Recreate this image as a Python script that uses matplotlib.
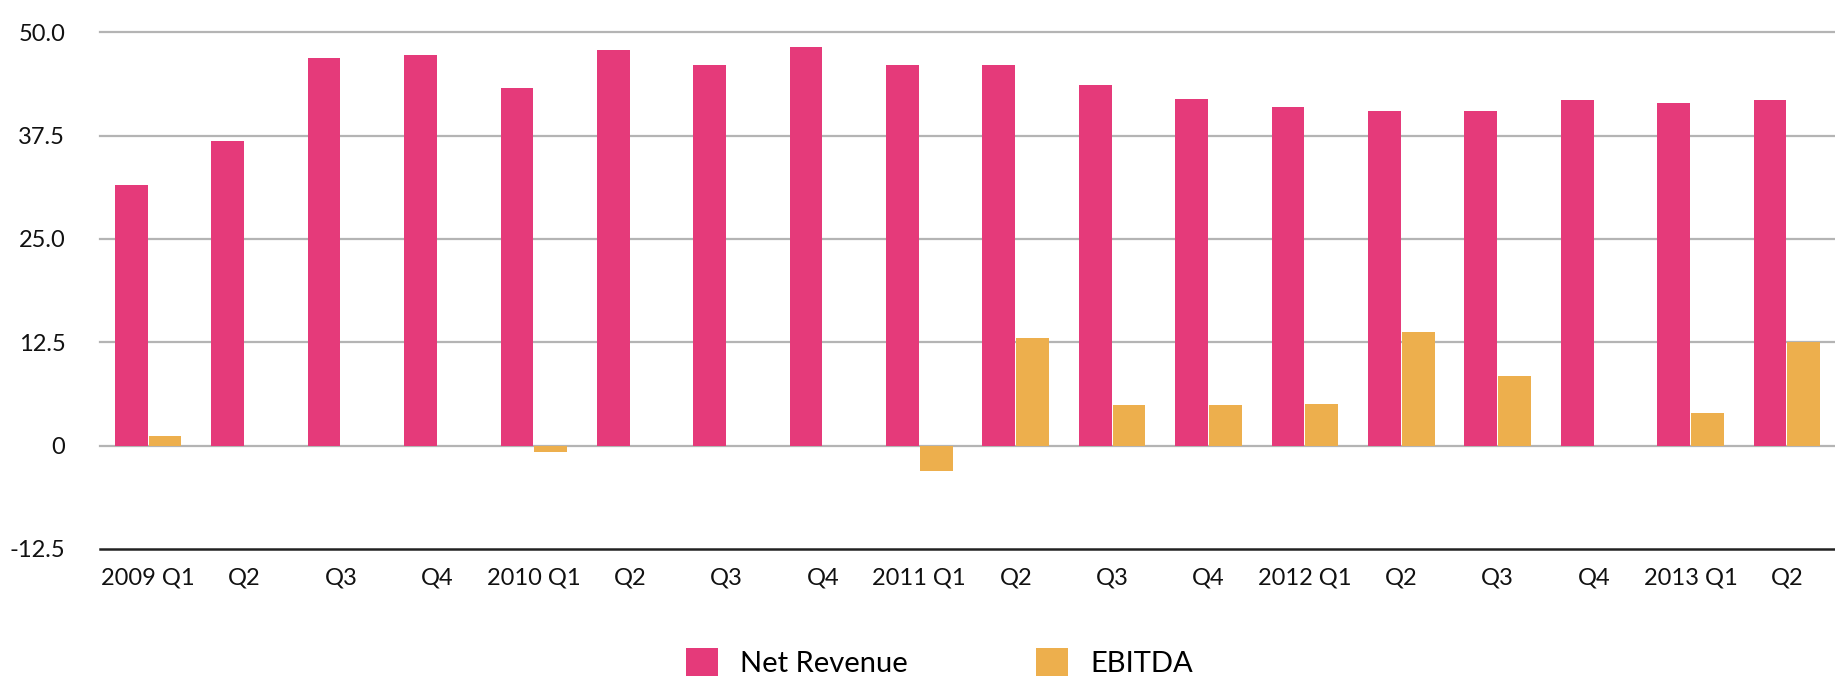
import numpy as np
import matplotlib
matplotlib.use("Agg")
import matplotlib.pyplot as plt

plt.rcParams['font.family'] = ['Lato', 'DejaVu Sans']

quarters = ["2009 Q1", "Q2", "Q3", "Q4", "2010 Q1", "Q2", "Q3", "Q4",
            "2011 Q1", "Q2", "Q3", "Q4", "2012 Q1", "Q2", "Q3", "Q4",
            "2013 Q1", "Q2"]
net_revenue = [31.5, 36.9, 46.9, 47.2, 43.2, 47.9, 46.0, 48.2,
               46.0, 46.0, 43.6, 41.9, 41.0, 40.5, 40.5, 41.8,
               41.4, 41.8]
ebitda = [1.2, np.nan, np.nan, np.nan, -0.8, np.nan, np.nan, np.nan,
          -3.1, 13.0, 4.9, 4.9, 5.0, 13.8, 8.4, np.nan,
          4.0, 12.5]
yticks = [-12.5, 0, 12.5, 25.0, 37.5, 50.0]
ytick_labels = ["-12.5", "0", "12.5", "25.0", "37.5", "50.0"]

pink = "#E53A7A"
orange = "#EDAF4D"

fig = plt.figure(figsize=(18.35, 6.79), dpi=100)
ax = fig.add_axes([0.0545, 0.1915, 0.9455, 0.761])

x = np.arange(len(quarters))
w = 0.34
ax.bar(x - 0.175, net_revenue, width=w, color=pink, zorder=3, label="Net Revenue")
ax.bar(x + 0.175, ebitda, width=w, color=orange, zorder=3, label="EBITDA")

ax.set_xlim(-0.5, len(quarters) - 0.5)
ax.set_ylim(-12.5, 50)
ax.set_yticks(yticks)
ax.set_yticklabels(ytick_labels)
ax.set_xticks(x)
ax.set_xticklabels(quarters)
ax.tick_params(axis='y', length=0, pad=25, labelsize=17, colors="#111111")
ax.tick_params(axis='x', length=0, pad=13, labelsize=17, colors="#111111")

for yv in yticks[1:]:
    ax.axhline(yv, color="#b4b4b4", lw=1.6, zorder=1, clip_on=False)

for s in ["top", "right", "left"]:
    ax.spines[s].set_visible(False)
ax.spines["bottom"].set_color("#222222")
ax.spines["bottom"].set_linewidth(1.8)

fig.legend(loc="center", bbox_to_anchor=(0.512, 0.024), ncol=2, frameon=False,
           fontsize=21, handlelength=1.1, handleheight=1.1, handletextpad=0.75,
           columnspacing=4.4, borderpad=0)

fig.savefig("out.png", dpi=100)
